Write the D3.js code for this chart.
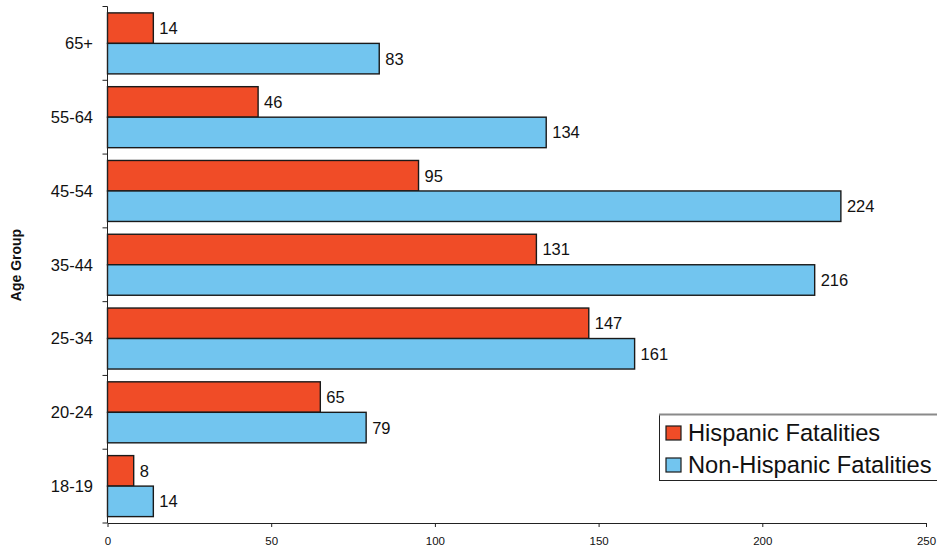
<!DOCTYPE html>
<html>
<head>
<meta charset="utf-8">
<script src="https://cdn.jsdelivr.net/npm/d3@7"></script>
<style>
  html, body { margin: 0; padding: 0; background: #fff; }
  svg { display: block; font-family: "Liberation Sans", Arial, sans-serif; }
</style>
</head>
<body>
<svg id="chart" width="937" height="550"></svg>
<script>
// Age groups, top to bottom
const categories = ["65+", "55-64", "45-54", "35-44", "25-34", "20-24", "18-19"];
const seriesNames = ["Hispanic Fatalities", "Non-Hispanic Fatalities"];
const hispanic = [14, 46, 95, 131, 147, 65, 8];
const nonHispanic = [83, 134, 224, 216, 161, 79, 14];
const xTicks = [0, 50, 100, 150, 200, 250];
const yTitle = "Age Group";

const colors = ["#F04C27", "#72C5EF"];
const series = [hispanic, nonHispanic];

const svg = d3.select("#chart");

const x = d3.scaleLinear().domain([0, 250]).range([107.5, 926]);
const y = d3.scaleBand().domain(categories).range([6.5, 523]).padding(0);

const pairH = 61;
const sub = d3.scaleBand().domain(d3.range(series.length)).range([0, pairH]);
const off = (y.bandwidth() - pairH) / 2;

// Bars
const groups = svg.append("g").selectAll("g")
  .data(categories)
  .join("g")
  .attr("transform", d => `translate(0,${y(d) + off})`);

groups.selectAll("rect")
  .data((d, i) => series.map((s, k) => ({ k, v: s[i] })))
  .join("rect")
  .attr("x", x(0))
  .attr("y", d => sub(d.k))
  .attr("width", d => x(d.v) - x(0))
  .attr("height", sub.bandwidth())
  .attr("fill", d => colors[d.k])
  .attr("stroke", "#1a1a1a")
  .attr("stroke-width", 1.4);

// Value labels
groups.selectAll("text")
  .data((d, i) => series.map((s, k) => ({ k, v: s[i] })))
  .join("text")
  .attr("x", d => x(d.v) + 6)
  .attr("y", d => sub(d.k) + sub.bandwidth() / 2)
  .attr("dy", "0.36em")
  .attr("font-size", 16.5)
  .attr("fill", "#111")
  .text(d => d.v);

// X axis
const xAxis = svg.append("g")
  .attr("transform", `translate(0,${523})`)
  .call(d3.axisBottom(x).tickValues(xTicks).tickSize(4).tickPadding(10).tickSizeOuter(0));
xAxis.select(".domain").attr("stroke", "#222");
xAxis.selectAll(".tick line").attr("stroke", "#222");
xAxis.selectAll(".tick text")
  .attr("font-size", 11.5)
  .attr("font-family", "Liberation Sans, Arial, sans-serif")
  .attr("fill", "#111");

// Y axis: ticks sit on band boundaries, labels at band centers
const yAxisG = svg.append("g");
yAxisG.append("line")
  .attr("x1", x(0)).attr("x2", x(0))
  .attr("y1", y.range()[0]).attr("y2", y.range()[1])
  .attr("stroke", "#222");
const bounds = categories.map(c => y(c)).concat([y.range()[1]]);
yAxisG.selectAll("line.tick")
  .data(bounds)
  .join("line")
  .attr("class", "tick")
  .attr("x1", x(0) - 5).attr("x2", x(0))
  .attr("y1", d => d).attr("y2", d => d)
  .attr("stroke", "#222");
yAxisG.selectAll("text")
  .data(categories)
  .join("text")
  .attr("x", x(0) - 14.5)
  .attr("y", d => y(d) + y.bandwidth() / 2)
  .attr("dy", "0.36em")
  .attr("text-anchor", "end")
  .attr("font-size", 16.5)
  .attr("fill", "#111")
  .text(d => d);

// Y axis title
svg.append("text")
  .attr("transform", "translate(21,265) rotate(-90)")
  .attr("text-anchor", "middle")
  .attr("font-size", 14)
  .attr("font-weight", "bold")
  .attr("fill", "#111")
  .text(yTitle);

// Legend box (runs off the right edge; grey top rule)
const legend = svg.append("g");
legend.append("rect")
  .attr("x", 659.5).attr("y", 414.5)
  .attr("width", 290).attr("height", 66)
  .attr("fill", "#fff")
  .attr("stroke", "#222")
  .attr("stroke-width", 1);
legend.append("line")
  .attr("x1", 659).attr("x2", 937)
  .attr("y1", 414.5).attr("y2", 414.5)
  .attr("stroke", "#8a8a8a")
  .attr("stroke-width", 2);
const items = legend.selectAll("g")
  .data(seriesNames)
  .join("g")
  .attr("transform", (d, i) => `translate(666,${426 + i * 32})`);
items.append("rect")
  .attr("width", 15).attr("height", 14)
  .attr("fill", (d, i) => colors[i])
  .attr("stroke", "#1a1a1a")
  .attr("stroke-width", 1.2);
items.append("text")
  .attr("x", 22)
  .attr("y", 14.5)
  .attr("font-size", 23.7)
  .attr("fill", "#111")
  .text(d => d);
</script>
</body>
</html>
